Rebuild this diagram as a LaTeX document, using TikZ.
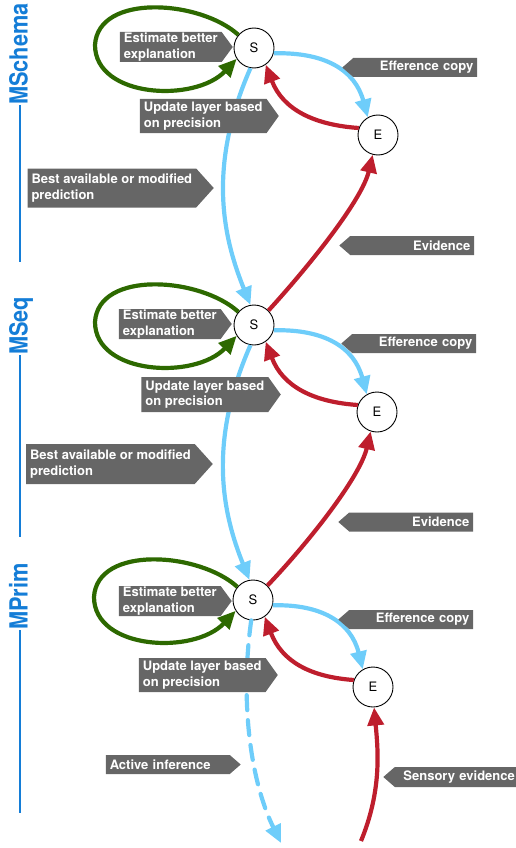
\documentclass[tikz,border=0pt]{standalone}
\usepackage{fontspec}
\setmainfont{TeX Gyre Heros}
\newfontfamily\titlefont{TeX Gyre Heros}[FakeStretch=0.87]
\usetikzlibrary{arrows.meta,shapes.symbols}
\definecolor{tagGray}{RGB}{102,102,102}
\definecolor{flowBlue}{RGB}{110,205,250}
\definecolor{flowRed}{RGB}{190,30,45}
\definecolor{loopGreen}{RGB}{45,105,0}
\definecolor{titleBlue}{RGB}{20,125,215}
\tikzstyle{state}=[circle, draw, line width=0.9pt, fill=white, minimum size=40pt, inner sep=0pt, font=\fontsize{13}{13}\selectfont]
\tikzstyle{tag}=[signal, fill=tagGray, text=white, inner xsep=4pt, inner ysep=0pt, font=\bfseries\fontsize{13}{15.5}\selectfont]
\tikzstyle{tagright}=[tag, signal to=east, anchor=east, align=left]
\tikzstyle{tagleft}=[tag, signal to=west, anchor=west, align=right, text width=116pt, minimum height=19pt, signal pointer angle=82]
\tikzstyle{flow}=[line width=4.2pt, -{Triangle[length=18pt,width=16pt]}]
\tikzstyle{flowblue}=[flow, flowBlue]
\tikzstyle{flowred}=[flow, flowRed]
\tikzstyle{flowgreen}=[flow, loopGreen]
\tikzstyle{title}=[rotate=90, anchor=west, inner sep=0pt, text=titleBlue, text height=15pt, text depth=0pt, font=\titlefont\bfseries\fontsize{25}{25}\selectfont]
\tikzstyle{titleline}=[draw=titleBlue, line width=2.8pt]

\begin{document}
\begin{tikzpicture}[x=1pt,y=-1pt]
  \useasboundingbox (0,0) rectangle (516,848);
  \begin{scope}
    \node (S1) at (254, 48) [state] {S};
    \node (E1) at (378, 135) [state] {E};
    \node (S2) at (254, 325) [state] {S};
    \node (E2) at (377, 412) [state] {E};
    \node (S3) at (253, 600) [state] {S};
    \node (E3) at (373, 687) [state] {E};
    \coordinate (actEnd) at (281, 843);
    \coordinate (sensStart) at (361, 841);
  \end{scope}
  \begin{scope}
    % self loops
    \draw [flowgreen] (S1.140) .. controls (200, 0) and (98, -7) .. (95, 45) .. controls (95, 98) and (195, 103) .. (S1.212);
    \draw [flowgreen] (S2.140) .. controls (200, 277) and (98, 270) .. (95, 322) .. controls (95, 375) and (195, 380) .. (S2.212);
    \draw [flowgreen] (S3.140) .. controls (199, 552) and (97, 545) .. (94, 597) .. controls (94, 650) and (194, 655) .. (S3.212);

    % efference copy
    \draw [flowblue] (S1.-15) .. controls (325, 52) and (355, 70) .. (E1.120);
    \draw [flowblue] (S2.-15) .. controls (324, 329) and (354, 347) .. (E2.120);
    \draw [flowblue] (S3.-15) .. controls (321, 604) and (351, 622) .. (E3.120);

    % prediction error back to S
    \draw [flowred] (E1.160) .. controls (315, 125) and (283, 110) .. (S1.-55);
    \draw [flowred] (E2.160) .. controls (314, 402) and (283, 387) .. (S2.-55);
    \draw [flowred] (E3.160) .. controls (311, 677) and (282, 662) .. (S3.-55);

    % between layers
    \draw [flowblue] (S1.-100) .. controls (208, 165) and (222, 235) .. (S2.100);
    \draw [flowblue] (S2.-100) .. controls (208, 442) and (222, 512) .. (S3.100);
    \draw [flowred] (S2.45) .. controls (310, 265) and (362, 200) .. (E1.-105);
    \draw [flowred] (S3.45) .. controls (309, 542) and (360, 477) .. (E2.-108);

    \draw [flowblue, line cap=round, dash pattern=on 15pt off 10pt] (S3.-95) .. controls (240, 700) and (250, 780) .. (actEnd);
    \draw [flowred] (sensStart) .. controls (382, 790) and (378, 750) .. (E3.-87);
  \end{scope}
  \begin{scope}
    \node (est1) at (233, 47) [tagright, minimum height=30pt, signal pointer angle=107] {Estimate better\\explanation};
    \node (upd1) at (279, 116) [tagright, minimum height=34pt, signal pointer angle=109] {Update layer based\\on precision};
    \node (best1) at (214, 188) [tagright, minimum height=39pt, signal pointer angle=96] {Best available or modified\\prediction};
    \node (eff1) at (342, 67.5) [tagleft] {Efference copy};
    \node (evid1) at (339, 245.5) [tagleft] {Evidence};

    \node (est2) at (232, 324) [tagright, minimum height=30pt, signal pointer angle=107] {Estimate better\\explanation};
    \node (upd2) at (281, 394.5) [tagright, minimum height=35pt, signal pointer angle=109] {Update layer based\\on precision};
    \node (best2) at (213, 464) [tagright, minimum height=40pt, signal pointer angle=96] {Best available or modified\\prediction};
    \node (eff2) at (341, 343.5) [tagleft] {Efference copy};
    \node (evid2) at (338, 522) [tagleft] {Evidence};

    \node (est3) at (232, 601) [tagright, minimum height=30pt, signal pointer angle=107] {Estimate better\\explanation};
    \node (upd3) at (278, 675) [tagright, minimum height=34pt, signal pointer angle=109] {Update layer based\\on precision};
    \node (eff3) at (338, 619.5) [tagleft] {Efference copy};
    \node (act) at (241, 764.5) [tagright, text width=116pt, minimum height=19pt, signal pointer angle=82] {Active inference};
    \node (sens) at (383, 777) [tagleft, minimum height=20pt] {Sensory evidence};

    \node (mschema) at (20, 105) [title] {MSchema};
    \node (mseq) at (20, 355) [title] {MSeq};
    \node (mprim) at (20, 630) [title] {MPrim};
    \draw [titleline] (mschema.west) -- +(0, 157);
    \draw [titleline] (mseq.west) -- +(0, 182);
    \draw [titleline] (mprim.west) -- +(0, 183);
  \end{scope}
\end{tikzpicture}
\end{document}
